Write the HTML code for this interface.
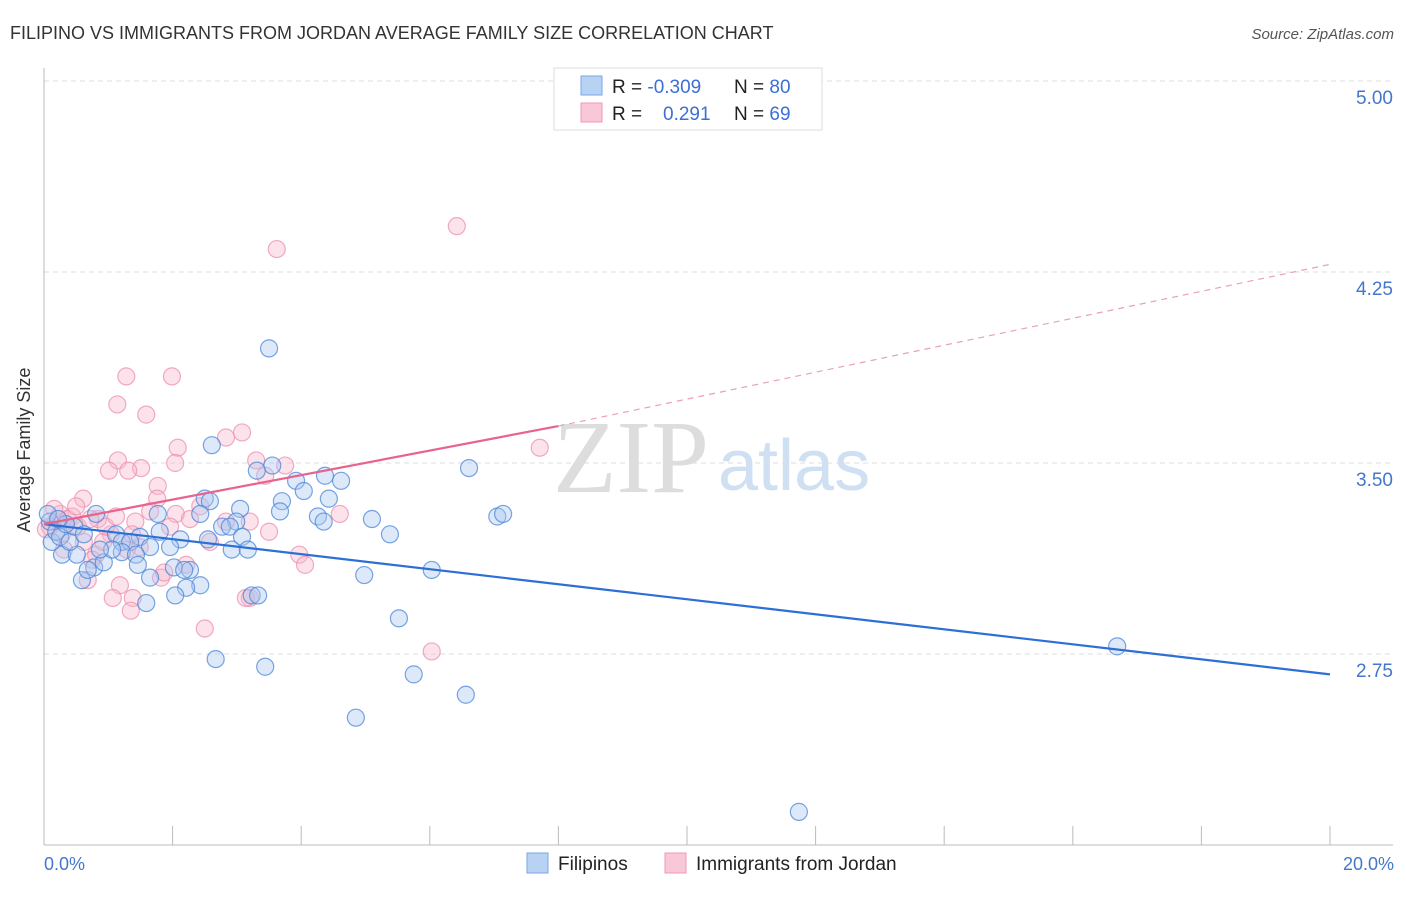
<!DOCTYPE html>
<html><head><meta charset="utf-8">
<style>
body{margin:0;background:#fff;width:1406px;height:892px;overflow:hidden;font-family:"Liberation Sans",sans-serif;}
svg text{font-family:"Liberation Sans",sans-serif;}
</style></head>
<body>
<svg id="chart" width="1406" height="892" viewBox="0 0 1406 892">
<text x="10" y="39" font-size="18" fill="#333">FILIPINO VS IMMIGRANTS FROM JORDAN AVERAGE FAMILY SIZE CORRELATION CHART</text>
<text x="1394" y="39" font-size="15" fill="#555" font-style="italic" text-anchor="end">Source: ZipAtlas.com</text>
<g id="grid"></g>
<g id="axes"></g>
<text x="553" y="492" font-size="104" fill="#ddd" style="font-family:'Liberation Serif',serif">ZIP</text>
<text x="718" y="490" font-size="72" fill="#cfe0f3">atlas</text>
<g id="points"></g>
<g id="trends"></g>
<text x="36" y="456" font-size="18" fill="#333" text-anchor="middle" transform="rotate(-90 30 456)">Average Family Size</text>
<text x="44" y="870" font-size="18" fill="#4477cc">0.0%</text>
<text x="1394" y="870" font-size="18" fill="#4477cc" text-anchor="end">20.0%</text>
<g>
<rect x="554" y="68" width="268" height="62" fill="#fff" stroke="#ddd"/>
<rect x="581" y="76" width="21" height="19" fill="#b8d2f4" stroke="#7aa6e4"/>
<rect x="581" y="103" width="21" height="19" fill="#f9c8d8" stroke="#ee9ab5"/>
<text x="612" y="93" font-size="19" fill="#222">R = <tspan fill="#3b6fd4">-0.309</tspan></text>
<text x="734" y="93" font-size="19" fill="#222">N = <tspan fill="#3b6fd4">80</tspan></text>
<text x="612" y="120" font-size="19" fill="#222">R = <tspan fill="#3b6fd4" x="663">0.291</tspan></text>
<text x="734" y="120" font-size="19" fill="#222">N = <tspan fill="#3b6fd4">69</tspan></text>
</g>
<g>
<rect x="527" y="853" width="21" height="20" fill="#b8d2f4" stroke="#7aa6e4"/>
<text x="558" y="870" font-size="19" fill="#222">Filipinos</text>
<rect x="665" y="853" width="21" height="20" fill="#f9c8d8" stroke="#ee9ab5"/>
<text x="696" y="870" font-size="19" fill="#222">Immigrants from Jordan</text>
</g>
</svg>
<script>
const yTicks=[5.00,4.25,3.50,2.75];
const yTickLabels=["5.00","4.25","3.50","2.75"];
const xTicks=[0,2,4,6,8,10,12,14,16,18,20];
const blueX=[3.50,2.61,6.61,3.55,3.31,4.37,4.62,3.92,4.04,4.43,2.50,2.58,3.70,3.05,3.67,2.43,1.77,7.05,7.14,4.26,4.35,5.10,2.99,2.77,2.89,1.80,5.38,0.81,1.12,1.49,3.08,2.12,2.55,1.21,1.34,1.65,1.96,2.92,3.17,1.21,1.43,0.28,0.51,1.46,2.02,2.27,2.18,4.98,6.03,1.65,0.59,0.78,0.68,2.43,2.21,2.04,1.59,3.23,3.33,5.52,2.67,3.44,5.75,6.56,4.85,11.74,16.69,0.09,0.12,0.19,0.25,0.40,0.47,0.34,0.93,1.06,0.06,0.22,0.87,0.62];
const blueY=[3.95,3.57,3.48,3.49,3.47,3.45,3.43,3.43,3.39,3.36,3.36,3.35,3.35,3.32,3.31,3.30,3.30,3.29,3.30,3.29,3.27,3.28,3.27,3.25,3.25,3.23,3.22,3.30,3.22,3.21,3.21,3.20,3.20,3.19,3.19,3.17,3.17,3.16,3.16,3.15,3.14,3.14,3.14,3.10,3.09,3.08,3.08,3.06,3.08,3.05,3.04,3.09,3.08,3.02,3.01,2.98,2.95,2.98,2.98,2.89,2.73,2.70,2.67,2.59,2.50,2.13,2.78,3.27,3.19,3.23,3.21,3.19,3.25,3.26,3.11,3.16,3.30,3.28,3.16,3.22];
const pinkX=[6.42,3.62,1.28,1.99,1.14,1.59,3.08,2.83,2.08,7.71,1.15,3.30,3.75,1.01,1.51,2.04,1.31,3.44,1.77,0.61,1.76,4.60,3.20,2.83,1.42,2.05,0.84,3.50,2.58,3.97,4.06,1.96,1.04,1.37,2.21,0.81,1.29,0.92,1.18,1.82,1.87,1.07,1.38,1.35,2.50,3.20,3.14,6.03,0.68,0.25,0.37,0.44,0.19,0.09,0.28,0.53,0.72,0.03,0.16,0.31,0.62,0.75,0.50,0.96,1.12,1.49,1.65,2.27,2.43];
const pinkY=[4.43,4.34,3.84,3.84,3.73,3.69,3.62,3.60,3.56,3.56,3.51,3.51,3.49,3.47,3.48,3.50,3.47,3.45,3.41,3.36,3.36,3.30,3.27,3.27,3.27,3.30,3.28,3.23,3.19,3.14,3.10,3.25,3.22,3.22,3.10,3.14,3.16,3.19,3.02,3.05,3.07,2.97,2.97,2.92,2.85,2.97,2.97,2.76,3.04,3.30,3.28,3.29,3.27,3.25,3.22,3.25,3.28,3.24,3.32,3.16,3.19,3.12,3.33,3.25,3.29,3.17,3.31,3.28,3.33];
const blueTrend=[[0,3.26],[20,2.67]];
const pinkTrend=[[0,3.26],[8,3.645],[20,4.28]];
const NS='http://www.w3.org/2000/svg';
function xs(v){return 44+v/20*1286;}
function ys(v){return 463-(v-3.5)*254.67;}
function mk(tag,attrs,parent){const e=document.createElementNS(NS,tag);for(const k in attrs)e.setAttribute(k,attrs[k]);parent.appendChild(e);return e;}
const grid=document.getElementById('grid'),axes=document.getElementById('axes'),pts=document.getElementById('points'),tr=document.getElementById('trends');
yTicks.forEach((t,i)=>{
 const l=mk('line',{x1:44,x2:1393,y1:ys(t),y2:ys(t),stroke:'#ddd','stroke-dasharray':'5,4'},grid);
 
 
 const tx=mk('text',{x:1393,y:ys(t)+23,'font-size':19,fill:'#4477cc','text-anchor':'end'},grid);
 tx.textContent=yTickLabels[i];
 
 
});
const ax=mk('line',{x1:44,x2:44,y1:68,y2:845,stroke:'#bbb'},axes);


const bx=mk('line',{x1:44,x2:1393,y1:845,y2:845,stroke:'#bbb'},axes);


xTicks.forEach(t=>{
 const l=mk('line',{x1:xs(t),x2:xs(t),y1:826,y2:845,stroke:'#bbb'},axes);
 
 
});
function drawPts(X,Y,fill,stroke,name){
 X.forEach((x,i)=>{
  const c=mk('circle',{cx:xs(x),cy:ys(Y[i]),r:8.5,fill:fill,'fill-opacity':0.4,stroke:stroke,'stroke-opacity':0.75,'stroke-width':1.2},pts);
  
  
 });
}
drawPts(pinkX,pinkY,'#f7b8cc','#ec8fae','point-jordan');
drawPts(blueX,blueY,'#a9c8ef','#4a86da','point-filipinos');
const bl=mk('line',{x1:xs(blueTrend[0][0]),y1:ys(blueTrend[0][1]),x2:xs(blueTrend[1][0]),y2:ys(blueTrend[1][1]),stroke:'#2d6fd6','stroke-width':2.2},tr);


const pl=mk('line',{x1:xs(pinkTrend[0][0]),y1:ys(pinkTrend[0][1]),x2:xs(pinkTrend[1][0]),y2:ys(pinkTrend[1][1]),stroke:'#e8638d','stroke-width':2.2},tr);


const pd=mk('line',{x1:xs(pinkTrend[1][0]),y1:ys(pinkTrend[1][1]),x2:xs(pinkTrend[2][0]),y2:ys(pinkTrend[2][1]),stroke:'#e8a0b8','stroke-width':1.2,'stroke-dasharray':'6,5'},tr);


</script>
</body></html>
